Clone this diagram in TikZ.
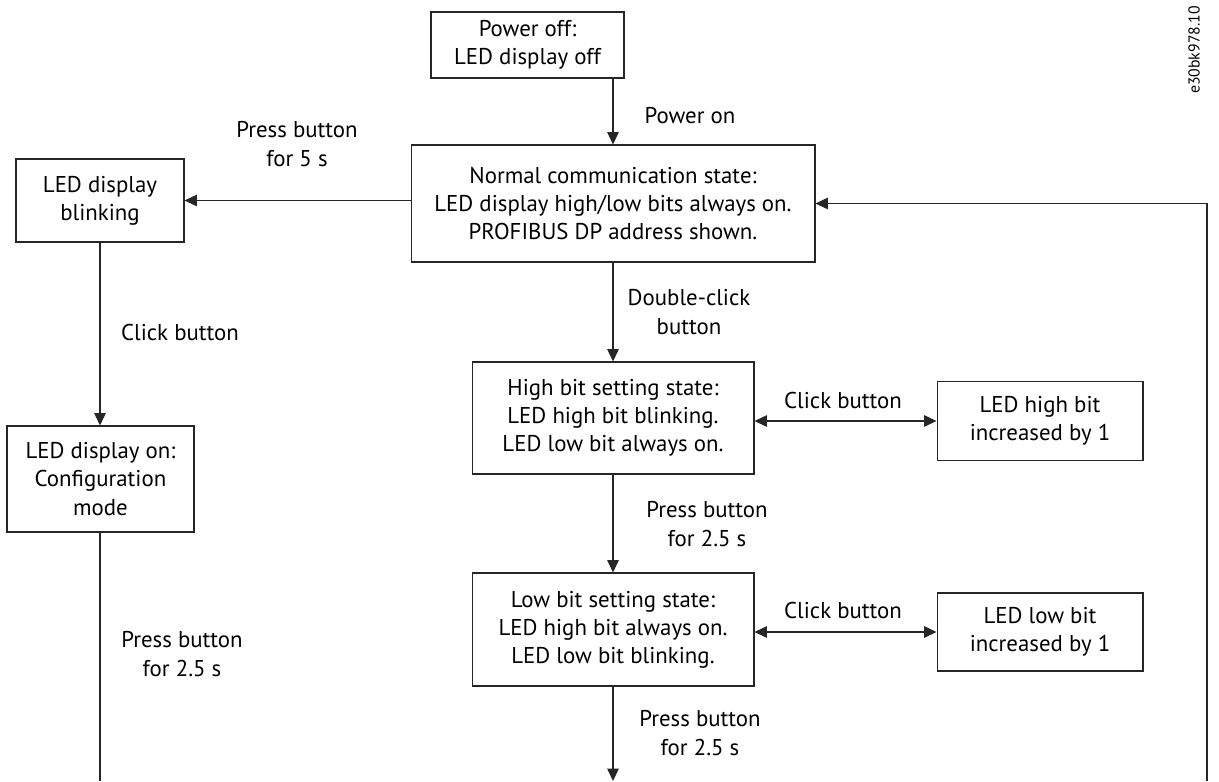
\documentclass[tikz,border=0pt]{standalone}
\usepackage{fontspec}
\setmainfont{PT Sans}
\usetikzlibrary{arrows.meta}
\begin{document}
\begin{tikzpicture}[x=0.02cm,y=-0.02cm,
  statebox/.style={draw=black!85, line width=0.6pt, align=center, inner sep=2pt,
    font=\fontsize{13}{16}\selectfont},
  lbl/.style={align=center, font=\fontsize{13}{16}\selectfont, inner sep=0pt},
  flow/.style={draw=black!85, line width=0.6pt, -{Triangle[length=7pt,width=6.5pt]}},
  both/.style={draw=black!85, line width=0.6pt, {Triangle[length=7pt,width=6.5pt]}-{Triangle[length=7pt,width=6.5pt]}},
  plain/.style={draw=black!85, line width=0.6pt}]
\useasboundingbox (0,0) rectangle (1219,781);

% state boxes
\node[statebox, minimum width=3.86cm, minimum height=1.32cm] (poff) at (527.5,45)
  {Power off:\\LED display off};
\node[statebox, minimum width=8.08cm, minimum height=2.34cm] (normal) at (613,203.5)
  {Normal communication state:\\LED display high/low bits always on.\\PROFIBUS DP address shown.};
\node[statebox, minimum width=3.36cm, minimum height=1.66cm] (blink) at (100,200.5)
  {LED display\\blinking};
\node[statebox, minimum width=3.74cm, minimum height=2.12cm] (config) at (100.5,479)
  {LED display on:\\Configuration\\mode};
\node[statebox, minimum width=5.64cm, minimum height=2.24cm] (high) at (613,418)
  {High bit setting state:\\LED high bit blinking.\\LED low bit always on.};
\node[statebox, minimum width=4.12cm, minimum height=1.58cm] (highinc) at (1040,421)
  {LED high bit\\increased by 1};
\node[statebox, minimum width=5.64cm, minimum height=2.26cm] (low) at (613,629.5)
  {Low bit setting state:\\LED high bit always on.\\LED low bit blinking.};
\node[statebox, minimum width=4.12cm, minimum height=1.56cm] (lowinc) at (1040,632)
  {LED low bit\\increased by 1};

% helper coordinates for the vertical runs
\coordinate (bottom) at (0,781);
\coordinate (rightx) at (1207,0);

% connectors
\draw[flow] (poff.south -| normal.north) -- (normal.north);
\draw[flow] (normal.west |- blink.east) -- (blink.east);
\draw[flow] (blink.south) -- (config.north -| blink.south);
\draw[plain] (config.south -| blink.south) -- (bottom -| blink.south);
\draw[flow] (normal.south) -- (high.north);
\draw[both] (high.east |- highinc.west) -- (highinc.west);
\draw[flow] (high.south) -- (low.north);
\draw[both] (low.east |- lowinc.west) -- (lowinc.west);
\draw[flow] (low.south) -- (bottom -| low.south);
\draw[flow] (bottom -| rightx) -- (rightx |- normal.east) -- (normal.east);

% connector labels
\node[lbl] (l1) at (690,116) {Power on};
\node[lbl] (l2) at (297,144) {Press button\\for 5 s};
\node[lbl] (l3) at (180,333) {Click button};
\node[lbl] (l4) at (689,312) {Double-click\\button};
\node[lbl] (l5) at (843,400) {Click button};
\node[lbl] (l6) at (707,524) {Press button\\for 2.5 s};
\node[lbl] (l7) at (843,610) {Click button};
\node[lbl] (l8) at (182,654) {Press button\\for 2.5 s};
\node[lbl] (l9) at (700,733) {Press button\\for 2.5 s};

% drawing number
\node[rotate=90, font=\fontsize{9}{10}\selectfont, inner sep=0pt] (docid) at (1194,50) {e30bk978.10};
\end{tikzpicture}
\end{document}
